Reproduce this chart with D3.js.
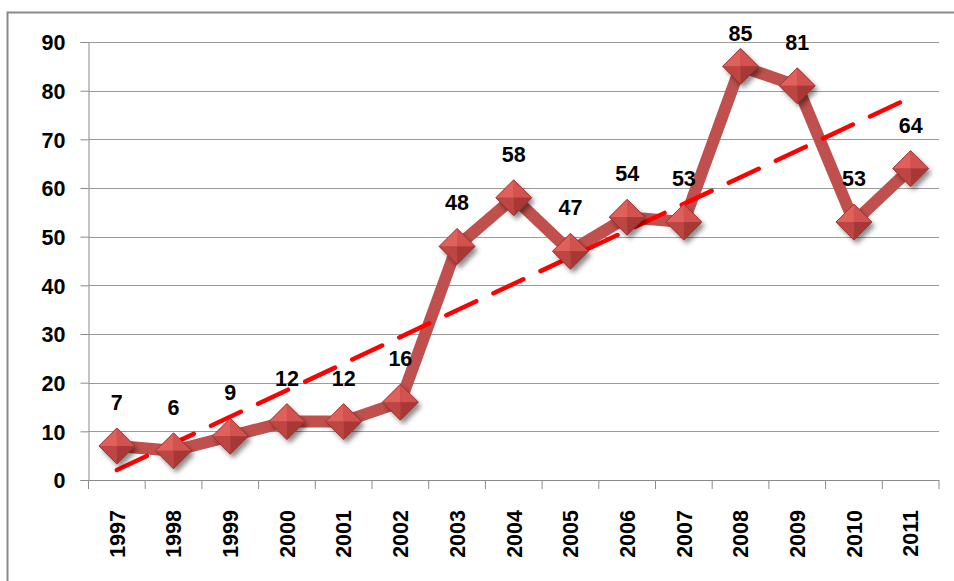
<!DOCTYPE html>
<html>
<head>
<meta charset="utf-8">
<script src="https://cdn.jsdelivr.net/npm/d3@7"></script>
<style>
  body { margin: 0; background: #fff; }
  text { font-family: "Liberation Sans", Arial, sans-serif; font-weight: bold; fill: #000; }
</style>
</head>
<body>
<script>
'use strict';

// categories and values
let years = ['1997','1998','1999','2000','2001','2002','2003','2004','2005','2006','2007','2008','2009','2010','2011'];
let counts = [7, 6, 9, 12, 12, 16, 48, 58, 47, 54, 53, 85, 81, 53, 64];
let yTicks = [0, 10, 20, 30, 40, 50, 60, 70, 80, 90];

let width = 954, height = 581;
let plot = { left: 88.5, right: 939, top: 42, bottom: 480 };

let svg = d3.select('body').append('svg')
  .attr('width', width)
  .attr('height', height);

// drop shadow for the diamonds
let defs = svg.append('defs');
let f = defs.append('filter').attr('id', 'shadow')
  .attr('x', '-50%').attr('y', '-50%').attr('width', '200%').attr('height', '200%');
f.append('feDropShadow').attr('dx', 3).attr('dy', 4).attr('stdDeviation', 2.5)
  .attr('flood-color', '#000').attr('flood-opacity', 0.45);

// outer frame
svg.append('rect')
  .attr('x', 7.5).attr('y', 12.5)
  .attr('width', 960).attr('height', 600)
  .attr('fill', 'none').attr('stroke', '#8a8a8a').attr('stroke-width', 2);

let x = d3.scaleBand().domain(years).range([plot.left, plot.right]);
let y = d3.scaleLinear().domain([0, 90]).range([plot.bottom, plot.top]);
let cx = d => x(d) + x.bandwidth() / 2;

// gridlines
svg.append('g').selectAll('line').data(yTicks.filter(d => d > 0)).enter().append('line')
  .attr('x1', plot.left).attr('x2', plot.right)
  .attr('y1', d => Math.round(y(d)) + 0.5).attr('y2', d => Math.round(y(d)) + 0.5)
  .attr('stroke', '#9a9a9a').attr('stroke-width', 1);

// y axis
let yAxis = svg.append('g')
  .attr('transform', `translate(${plot.left},0)`)
  .call(d3.axisLeft(y).tickValues(yTicks).tickSize(8).tickPadding(15));
yAxis.select('.domain').attr('stroke', '#8a8a8a');
yAxis.selectAll('.tick line').attr('stroke', '#8a8a8a');
yAxis.selectAll('.tick text').attr('font-size', 21.5).attr('font-family', null).attr('dy', '0.36em');

// x axis line and ticks between categories
let xAxis = svg.append('g');
xAxis.append('line')
  .attr('x1', plot.left).attr('x2', plot.right)
  .attr('y1', plot.bottom + 0.5).attr('y2', plot.bottom + 0.5)
  .attr('stroke', '#8a8a8a');
xAxis.selectAll('line.tk').data(years.concat(['end'])).enter().append('line')
  .attr('class', 'tk')
  .attr('x1', d => d === 'end' ? plot.right : x(d))
  .attr('x2', d => d === 'end' ? plot.right : x(d))
  .attr('y1', plot.bottom).attr('y2', plot.bottom + 9)
  .attr('stroke', '#8a8a8a');
xAxis.selectAll('text').data(years).enter().append('text')
  .attr('transform', d => `translate(${cx(d)},510) rotate(-90)`)
  .attr('text-anchor', 'end')
  .attr('dy', '0.36em')
  .attr('font-size', 21.5)
  .text(d => d);

// trend line (least squares over the series)
let idx = counts.map((v, i) => i);
let mx = d3.mean(idx), my = d3.mean(counts);
let slope = d3.sum(idx, i => (i - mx) * (counts[i] - my)) / d3.sum(idx, i => (i - mx) * (i - mx));
let icpt = my - slope * mx;
let trend = [0, years.length - 1].map(i => [years[i], icpt + slope * i]);

// main series line
let lineGen = d3.line().x(d => cx(d[0])).y(d => y(d[1]));
let series = years.map((yr, i) => [yr, counts[i]]);
svg.append('path').datum(series)
  .attr('fill', 'none').attr('stroke', '#c0504d').attr('stroke-width', 12)
  .attr('stroke-linejoin', 'round')
  .attr('d', lineGen);

svg.append('path').datum(trend)
  .attr('fill', 'none').attr('stroke', '#ff0000').attr('stroke-width', 4.5)
  .attr('stroke-dasharray', '33,19').attr('stroke-linecap', 'round')
  .attr('d', lineGen);

// diamond markers with bevel facets
let r = 18;
let facets = [
  { pts: [[0, 0], [-1, 0], [0, -1]], c: '#e0605c' },
  { pts: [[0, 0], [0, -1], [1, 0]], c: '#d2524f' },
  { pts: [[0, 0], [1, 0], [0, 1]], c: '#a73836' },
  { pts: [[0, 0], [0, 1], [-1, 0]], c: '#bd4542' }
];
let markers = svg.append('g').selectAll('g').data(series).enter().append('g')
  .attr('transform', d => `translate(${cx(d[0])},${y(d[1])})`);
markers.append('path')
  .attr('d', `M0,${-r}L${r},0L0,${r}L${-r},0Z`)
  .attr('fill', '#b94542')
  .attr('filter', 'url(#shadow)');
facets.forEach(fc => {
  markers.append('path')
    .attr('d', 'M' + fc.pts.map(p => [p[0] * r, p[1] * r].join(',')).join('L') + 'Z')
    .attr('fill', fc.c);
});
markers.append('path')
  .attr('d', `M0,${-r}L${r},0L0,${r}L${-r},0Z`)
  .attr('fill', 'none').attr('stroke', '#8e2f2d').attr('stroke-width', 0.8);

// data labels above the points, kept inside the chart
svg.append('g').selectAll('text').data(series).enter().append('text')
  .attr('x', d => cx(d[0]))
  .attr('y', d => Math.max(y(d[1]) - 36, 41))
  .attr('text-anchor', 'middle')
  .attr('font-size', 21.5)
  .text(d => d[1]);
</script>
</body>
</html>
